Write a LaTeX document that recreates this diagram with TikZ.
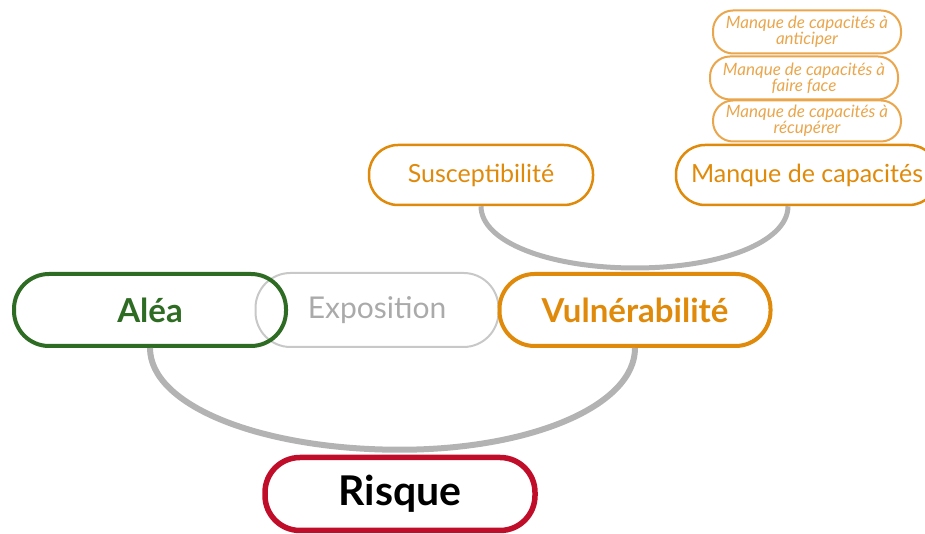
\documentclass[tikz,border=0pt]{standalone}
\usepackage{fontspec}
\setmainfont{Lato}
\usetikzlibrary{positioning}

\definecolor{aleagreen}{HTML}{2E6B23}
\definecolor{vulnorange}{HTML}{E08A0B}
\definecolor{capaorange}{HTML}{E9A64C}
\definecolor{risqred}{HTML}{C00E2A}
\definecolor{linkgray}{HTML}{B3B3B3}
\definecolor{expogray}{HTML}{C8C8C8}

\begin{document}
\begin{tikzpicture}[
    x=1pt, y=1pt,
    pill/.style={rectangle, align=center, inner sep=0pt},
    bigpill/.style={pill, minimum height=72pt, rounded corners=35pt, font=\fontsize{30}{32}\selectfont},
    boldpill/.style={bigpill, line width=4pt, font=\bfseries\fontsize{33}{36}\selectfont},
    midpill/.style={pill, draw=vulnorange, line width=2.5pt, minimum height=60pt, rounded corners=29pt, text=vulnorange, font=\fontsize{25}{28}\selectfont},
    smallpill/.style={pill, draw=capaorange, line width=2pt, minimum width=188pt, minimum height=43pt, rounded corners=20pt, text=capaorange, font=\itshape\fontsize{17}{15}\selectfont},
    link/.style={draw=linkgray, line width=6pt}
]
    \useasboundingbox (0,0) rectangle (925,534);

    % Nodes
    \node[bigpill, draw=expogray, line width=2pt, minimum width=243pt, minimum height=74pt, text=expogray!85!black] (expo) at (377,224) {Exposition};
    \node[boldpill, draw=aleagreen, minimum width=272pt, text=aleagreen] (alea) at (150,224) {Aléa};
    \node[boldpill, draw=vulnorange, minimum width=271pt, text=vulnorange] (vuln) at (635,224) {Vulnérabilité};
    \node[bigpill, draw=risqred, line width=5.5pt, minimum width=270pt, minimum height=73pt, font=\bfseries\fontsize{41}{44}\selectfont] (risque) at (400,40) {Risque};

    \node[midpill, minimum width=224pt] (susc) at (481,359) {Susceptibilité};
    \node[midpill, minimum width=262pt] (manque) at (807,359) {Manque de capacités};

    \node[smallpill] (anticiper) at (807,502) {Manque de capacités à\\anticiper};
    \node[smallpill] (faireface) at (804,456) {Manque de capacités à\\faire face};
    \node[smallpill, minimum height=41pt] (recuperer) at (807,413) {Manque de capacités à\\récupérer};

    % Links
    \draw[link] (alea.south) .. controls +(0,-58) and +(-138,0) .. ([yshift=5pt]risque.north)
                .. controls +(130,0) and +(0,-58) .. (vuln.south);
    \draw[link, line width=5pt] (susc.south) .. controls +(0,-36) and +(-85,0) .. ([yshift=4pt]vuln.north)
                .. controls +(85,0) and +(0,-36) .. ([xshift=-19pt]manque.south);
\end{tikzpicture}
\end{document}
